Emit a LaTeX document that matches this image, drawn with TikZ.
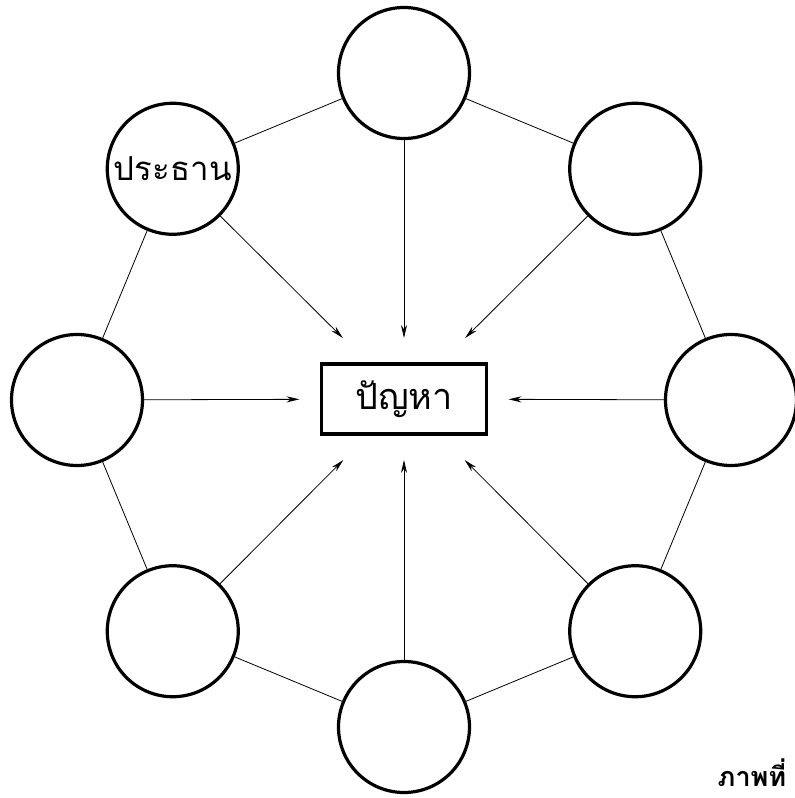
\documentclass[tikz,border=0pt]{standalone}
\usepackage{fontspec}
\newfontfamily\thaifont[Script=Thai]{Loma}
\usetikzlibrary{arrows.meta}
\tikzset{
	wong/.style={draw,circle,line width=3.2pt,minimum size=131pt,inner sep=0pt},
	kop/.style={draw,rectangle,line width=3.2pt,minimum width=165pt,minimum height=70pt,%
		outer xsep=22pt,outer ysep=26pt},
	sen/.style={line width=0.8pt},
}
\begin{document}
\begin{tikzpicture}[>={Stealth[length=13pt,width=6pt]},x=1pt,y=1pt]
			\useasboundingbox (-404,-398) rectangle (391,400);
			% the problem box in the middle
			\node[kop,font=\thaifont\fontsize{36}{40}\selectfont] (panha) at (0,1) {ปัญหา};
			% eight circles round it
			\foreach \i/\a in {1/90,2/45,3/0,4/-45,5/-90,6/-135,7/180,8/135}
				\node[wong] (c\i) at (\a:327) {};
			\node[font=\thaifont\fontsize{33}{36}\selectfont] at (c8) {ประธาน};
			% ring between neighbours
			\foreach \i/\j in {1/2,2/3,3/4,4/5,5/6,6/7,7/8,8/1}
				\draw[sen] (c\i) -- (c\j);
			% arrows to the middle
			\foreach \i in {1,...,8}
				\draw[sen,->] (c\i) -- (panha);
			\node[anchor=base,inner sep=0pt,font=\thaifont\bfseries\fontsize{27}{30}\selectfont] (bot) at (348,-386) {ภาพที่};
		\end{tikzpicture}
\end{document}
